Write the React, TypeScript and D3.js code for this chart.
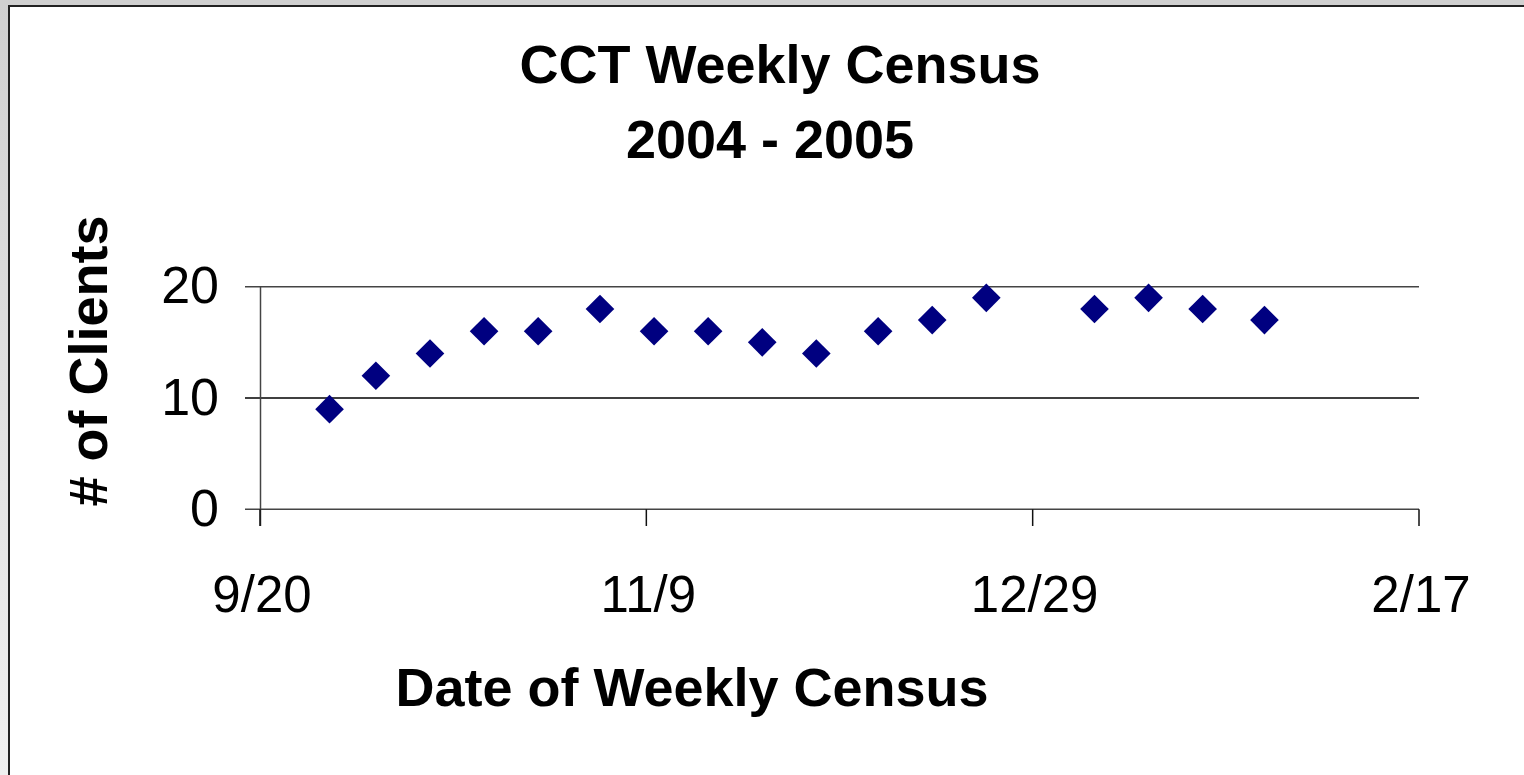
import React from 'react';
import * as d3 from 'd3';

// census dates (2004-2005) and number of clients on each
const censusDates = [
  '2004-09-29', '2004-10-05', '2004-10-12', '2004-10-19', '2004-10-26',
  '2004-11-03', '2004-11-10', '2004-11-17', '2004-11-24', '2004-12-01',
  '2004-12-09', '2004-12-16', '2004-12-23', '2005-01-06', '2005-01-13',
  '2005-01-20', '2005-01-28',
];
const clients = [9, 12, 14, 16, 16, 18, 16, 16, 15, 14, 16, 17, 19, 18, 19, 18, 17];

const xTickDates = ['2004-09-20', '2004-11-09', '2004-12-29', '2005-02-17'];
const xTickLabels = ['9/20', '11/9', '12/29', '2/17'];
const yTicks = [0, 10, 20];

const width = 1524;
const height = 775;
const font = '"Liberation Sans", Arial, sans-serif';

export default function App() {
  const parse = (s: string) => new Date(s + 'T00:00:00Z');

  const x = d3
    .scaleUtc()
    .domain([parse(xTickDates[0]), parse(xTickDates[xTickDates.length - 1])])
    .range([260, 1419]);

  const y = d3.scaleLinear().domain([0, 20]).range([509.3, 286.7]);

  const diamond = d3.symbol(d3.symbolSquare, 410)() as string;

  const points = censusDates.map((d, i) => ({ date: parse(d), value: clients[i] }));

  return (
    <svg
      width={width}
      height={height}
      style={{ position: 'absolute', left: 0, top: 0, background: '#fff' }}
    >
      <defs>
        <linearGradient id="leftStrip" x1="0" y1="0" x2="0" y2="1">
          <stop offset="0" stopColor="#d0d0d0" />
          <stop offset="1" stopColor="#f0f0f0" />
        </linearGradient>
      </defs>

      {/* window frame */}
      <rect x={0} y={0} width={width} height={5} fill="#d0d0d0" />
      <rect x={0} y={0} width={8} height={height} fill="url(#leftStrip)" />
      <line x1={8} x2={width} y1={6} y2={6} stroke="#222" strokeWidth={2} />
      <line x1={9} x2={9} y1={5} y2={height} stroke="#222" strokeWidth={2} />

      {/* title */}
      <text x={780} y={83} textAnchor="middle" fontFamily={font} fontWeight="bold" fontSize={54}>
        CCT Weekly Census
      </text>
      <text x={770} y={158} textAnchor="middle" fontFamily={font} fontWeight="bold" fontSize={54}>
        2004 - 2005
      </text>

      {/* gridlines + y ticks */}
      {yTicks.map((t) => (
        <g key={t}>
          <line
            x1={245}
            x2={1419}
            y1={y(t)}
            y2={y(t)}
            stroke={t === 10 ? '#000' : '#444'}
            strokeWidth={1.5}
          />
          <text
            x={219}
            y={y(t) + 16.5}
            textAnchor="end"
            fontFamily={font}
            fontSize={52}
          >
            {t}
          </text>
        </g>
      ))}

      {/* y axis */}
      <line x1={260.5} x2={260.5} y1={y(20)} y2={526} stroke="#444" strokeWidth={1.5} />

      {/* x ticks */}
      {xTickDates.map((d, i) => (
        <g key={d}>
          <line
            x1={x(parse(d))}
            x2={x(parse(d))}
            y1={y(0)}
            y2={526}
            stroke="#111"
            strokeWidth={1.5}
          />
          <text
            x={x(parse(d)) + 2}
            y={612}
            textAnchor="middle"
            fontFamily={font}
            fontSize={51}
          >
            {xTickLabels[i]}
          </text>
        </g>
      ))}

      {/* axis titles */}
      <text
        transform="translate(107,361) rotate(-90)"
        textAnchor="middle"
        fontFamily={font}
        fontWeight="bold"
        fontSize={54}
      >
        # of Clients
      </text>
      <text x={692} y={706} textAnchor="middle" fontFamily={font} fontWeight="bold" fontSize={54}>
        Date of Weekly Census
      </text>

      {/* points */}
      {points.map((p, i) => (
        <path
          key={i}
          d={diamond}
          transform={`translate(${x(p.date)},${y(p.value)}) rotate(45)`}
          fill="#000080"
        />
      ))}
    </svg>
  );
}
